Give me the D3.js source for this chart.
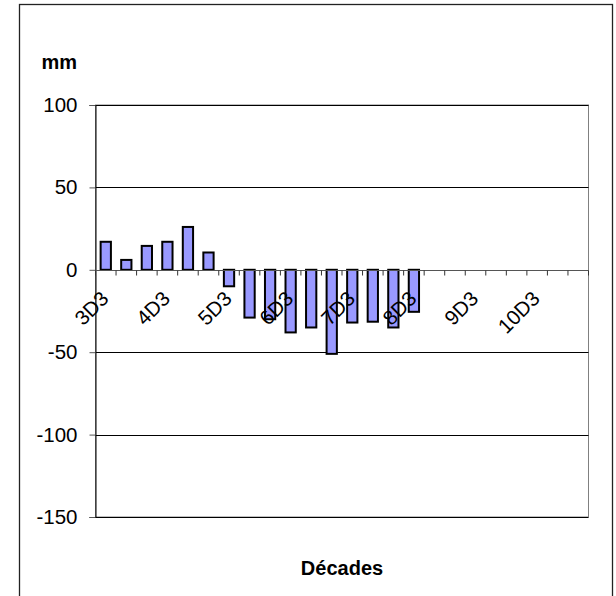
<!DOCTYPE html>
<html>
<head>
<meta charset="utf-8">
<script src="https://cdn.jsdelivr.net/npm/d3@7"></script>
<style>
  html, body { margin: 0; padding: 0; background: #fff; }
  svg { display: block; }
  text { font-family: "Liberation Sans", Arial, sans-serif; fill: #000; }
</style>
</head>
<body>
<svg id="chart" width="616" height="596"></svg>
<script>
// Ten-day periods (month + decade number)
const categories = ["3D3","4D1","4D2","4D3","5D1","5D2","5D3","6D1","6D2","6D3","7D1","7D2",
                    "7D3","8D1","8D2","8D3","9D1","9D2","9D3","10D1","10D2","10D3","11D1","11D2"];
// Anomaly in mm per decade (no data after 8D3)
const values = [17, 6, 14.5, 17, 26, 10.5, -10, -29, -30, -38, -35, -51,
                -32, -31.5, -35, -25.5, null, null, null, null, null, null, null, null];
const yTicks = [-150, -100, -50, 0, 50, 100];
const labelEvery = 3;

const svg = d3.select("#chart");
const plot = { left: 95.5, right: 588.5, top: 105, bottom: 517 };

// outer chart frame
svg.append("rect")
  .attr("x", 19.5).attr("y", 4.5).attr("width", 593).attr("height", 640)
  .attr("fill", "#fff").attr("stroke", "#222").attr("stroke-width", 1.3);

const x = d3.scaleBand().domain(categories).range([plot.left, plot.right])
  .paddingInner(0.5).paddingOuter(0.25);
const xCat = d3.scaleBand().domain(categories).range([plot.left, plot.right]).padding(0);
const y = d3.scaleLinear().domain([-150, 100]).range([plot.bottom, plot.top]);

// plot area border
svg.append("rect")
  .attr("x", plot.left).attr("y", plot.top)
  .attr("width", plot.right - plot.left).attr("height", plot.bottom - plot.top)
  .attr("fill", "none").attr("stroke", "#808080").attr("stroke-width", 1);

// horizontal gridlines
svg.append("g").selectAll("line")
  .data(yTicks.filter(v => v !== 0))
  .join("line")
  .attr("x1", plot.left).attr("x2", plot.right)
  .attr("y1", d => Math.round(y(d)) + 0.5).attr("y2", d => Math.round(y(d)) + 0.5)
  .attr("stroke", "#000").attr("stroke-width", 1);

// value axis
const yAxis = d3.axisLeft(y).tickValues(yTicks).tickSize(6).tickPadding(12).tickFormat(d => String(d));
const gy = svg.append("g").attr("transform", `translate(${plot.left},0)`).call(yAxis);
gy.select(".domain").attr("stroke", "#000");
gy.selectAll(".tick line").attr("stroke", "#555");
gy.selectAll(".tick text")
  .attr("font-family", "Liberation Sans, Arial, sans-serif")
  .attr("font-size", 20.5).attr("fill", "#000");

// bars
svg.append("g").selectAll("rect")
  .data(categories.map((c, i) => ({ c, v: values[i] })).filter(d => d.v !== null))
  .join("rect")
  .attr("x", d => x(d.c))
  .attr("width", x.bandwidth())
  .attr("y", d => y(Math.max(0, d.v)))
  .attr("height", d => Math.abs(y(d.v) - y(0)))
  .attr("fill", "#9999ff").attr("stroke", "#000").attr("stroke-width", 2);

// category axis at zero
const y0 = Math.round(y(0)) + 0.5;
svg.append("line")
  .attr("x1", plot.left).attr("x2", plot.right).attr("y1", y0).attr("y2", y0)
  .attr("stroke", "#555").attr("stroke-width", 1.2);
const bounds = categories.map(c => xCat(c)).concat([plot.right]);
svg.append("g").selectAll("line")
  .data(bounds)
  .join("line")
  .attr("x1", d => d).attr("x2", d => d)
  .attr("y1", y0).attr("y2", y0 + 5)
  .attr("stroke", "#333").attr("stroke-width", 1);

// rotated category labels
svg.append("g").selectAll("text")
  .data(categories.filter((c, i) => i % labelEvery === 0))
  .join("text")
  .attr("transform", d => `translate(${x(d) + x.bandwidth() / 2 + 4},300) rotate(-45)`)
  .attr("text-anchor", "end")
  .attr("font-size", 20.5)
  .text(d => d);

// axis titles
svg.append("text")
  .attr("x", 77).attr("y", 69).attr("text-anchor", "end")
  .attr("font-size", 20).attr("font-weight", "bold")
  .text("mm");
svg.append("text")
  .attr("x", (plot.left + plot.right) / 2).attr("y", 575).attr("text-anchor", "middle")
  .attr("font-size", 20).attr("font-weight", "bold")
  .text("Décades");
</script>
</body>
</html>
